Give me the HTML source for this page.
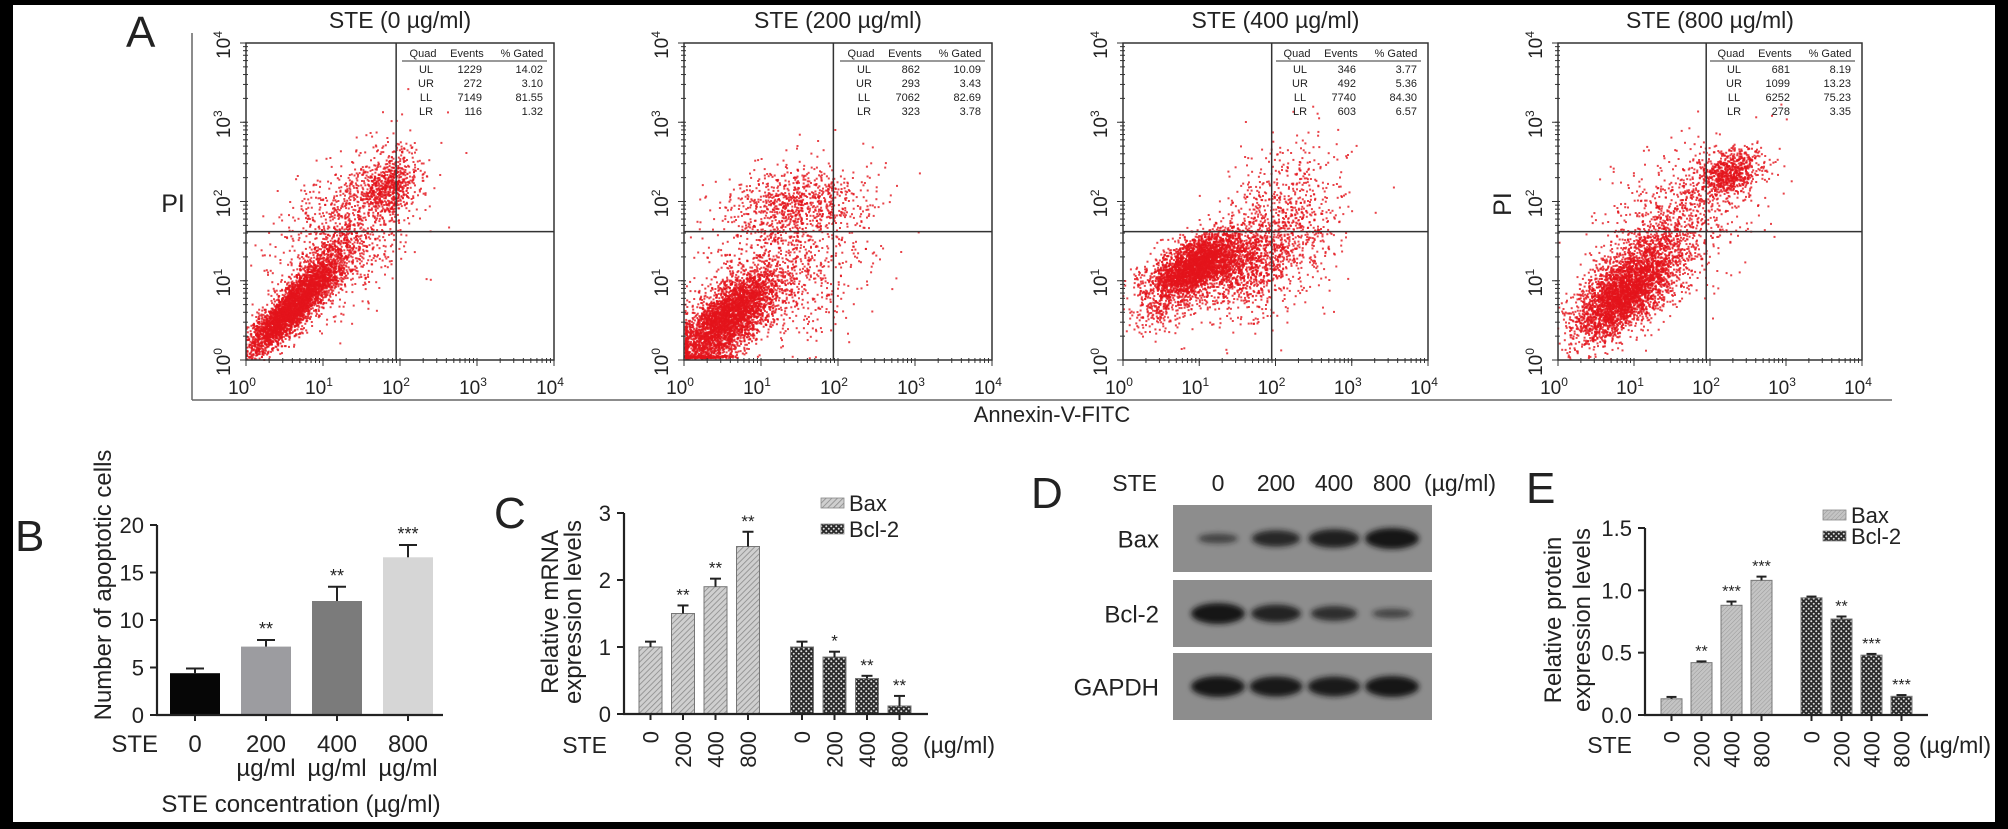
<!DOCTYPE html>
<html><head><meta charset="utf-8"><title>STE apoptosis figure</title>
<style>html,body{margin:0;padding:0;background:#000}svg{display:block}text{font-family:"Liberation Sans",Arial,sans-serif;fill:#222}</style>
</head><body>
<svg id="fig" xmlns="http://www.w3.org/2000/svg" width="2008" height="829" viewBox="0 0 2008 829">
<defs>
<pattern id="hatchC" width="4" height="4" patternUnits="userSpaceOnUse" patternTransform="rotate(45)"><rect width="4" height="4" fill="#cfcfcf"/><line x1="0" y1="0" x2="0" y2="4" stroke="#8a8a8a" stroke-width="1.6"/></pattern>
<pattern id="hatchE" width="3" height="3" patternUnits="userSpaceOnUse" patternTransform="rotate(45)"><rect width="3" height="3" fill="#c4c4c4"/><line x1="0" y1="0" x2="0" y2="3" stroke="#9a9a9a" stroke-width="1"/></pattern>
<pattern id="check" width="5" height="5" patternUnits="userSpaceOnUse"><rect width="5" height="5" fill="#2a2a2a"/><circle cx="1.25" cy="1.25" r="1" fill="#ddd"/><circle cx="3.75" cy="3.75" r="1" fill="#ddd"/></pattern>
<filter id="blur" x="-30%" y="-80%" width="160%" height="260%"><feGaussianBlur stdDeviation="2.6"/></filter>
</defs>
<rect x="0" y="0" width="2008" height="829" fill="#000"/>
<rect x="13" y="5" width="1982" height="817" fill="#fff"/>
<g id="root"></g>
</svg>
<script>
// ---------- DATA ----------
const flowTitles = ["STE (0 \u00b5g/ml)","STE (200 \u00b5g/ml)","STE (400 \u00b5g/ml)","STE (800 \u00b5g/ml)"];
const quadNames = ["UL","UR","LL","LR"];
const quadEvents0 = ["1229","272","7149","116"];
const quadPct0 = ["14.02","3.10","81.55","1.32"];
const quadEvents1 = ["862","293","7062","323"];
const quadPct1 = ["10.09","3.43","82.69","3.78"];
const quadEvents2 = ["346","492","7740","603"];
const quadPct2 = ["3.77","5.36","84.30","6.57"];
const quadEvents3 = ["681","1099","6252","278"];
const quadPct3 = ["8.19","13.23","75.23","3.35"];
const quadGateX = [1.95,1.94,1.95,1.95];
const quadGateY = [1.62,1.62,1.62,1.62];
// clusters: [cx, cy, sx, sy, rho, n] in log10 units
const clusters0 = [[0.55,0.6,0.28,0.28,0.85,2800],[0.95,1.05,0.25,0.25,0.7,900],[1.85,2.2,0.2,0.2,0.3,650],[1.3,1.6,0.45,0.5,0.4,1000]];
const clusters1 = [[0.5,0.45,0.32,0.32,0.7,2900],[0.8,0.7,0.3,0.25,0.6,800],[1.45,1.95,0.45,0.25,0.2,850],[1.3,1.1,0.55,0.5,0.3,750]];
const clusters2 = [[0.95,1.2,0.3,0.2,0.6,2700],[1.5,1.2,0.35,0.25,0.3,900],[2.0,1.6,0.45,0.55,0.4,1050],[0.6,0.8,0.25,0.25,0.5,400]];
const clusters3 = [[0.8,0.8,0.3,0.3,0.6,2600],[1.2,1.1,0.3,0.3,0.5,900],[2.25,2.35,0.2,0.15,0.3,700],[1.5,1.7,0.5,0.5,0.5,950]];
const clampBottom = [false,true,false,false];
const decadeLabels = ["0","1","2","3","4"];

// Panel B
const bCats = ["0","200","400","800"];
const bSub = ["","\u00b5g/ml","\u00b5g/ml","\u00b5g/ml"];
const bVals = [4.4,7.2,12.0,16.6];
const bErr = [4.9,7.9,13.5,17.9];
const bStars = ["","**","**","***"];
const bColors = ["#060606","#9c9ca0","#7b7b7b","#d6d6d6"];
const bTicks = [0,5,10,15,20];

// Panel C
const cCats = ["0","200","400","800"];
const cBax = [1.0,1.5,1.9,2.5];
const cBaxErr = [1.08,1.62,2.02,2.72];
const cBcl = [1.0,0.85,0.53,0.12];
const cBclErr = [1.08,0.93,0.57,0.27];
const cBaxStars = ["","**","**","**"];
const cBclStars = ["","*","**","**"];
const cTicks = [0,1,2,3];

// Panel D
const dLanes = ["0","200","400","800"];
const dRows = ["Bax","Bcl-2","GAPDH"];
const dBax = [0.3,0.72,0.85,1.0];
const dBcl = [1.0,0.8,0.62,0.28];
const dGapdh = [1.0,0.95,0.93,1.0];

// Panel E
const eBax = [0.13,0.42,0.88,1.08];
const eBaxErr = [0.145,0.43,0.91,1.11];
const eBcl = [0.94,0.77,0.48,0.15];
const eBclErr = [0.95,0.79,0.49,0.16];
const eBaxStars = ["","**","***","***"];
const eBclStars = ["","**","***","***"];
const eTicks = [0,0.5,1.0,1.5];
const eTickLabels = ["0.0","0.5","1.0","1.5"];

// ---------- HELPERS ----------
const NS="http://www.w3.org/2000/svg";
const root=document.getElementById('root');
function mk(tag,attrs,parent){const e=document.createElementNS(NS,tag);for(const k in attrs)e.setAttribute(k,attrs[k]);(parent||root).appendChild(e);return e;}
function txt(s,x,y,size,anchor,parent,extra){const e=mk('text',Object.assign({x:x,y:y,'font-size':size,'text-anchor':anchor||'start'},extra||{}),parent);e.textContent=s;return e;}
function line(x1,y1,x2,y2,w,c,parent){return mk('line',{x1:x1,y1:y1,x2:x2,y2:y2,stroke:c||'#222','stroke-width':w||2},parent);}

[["A",126,47],["B",15,551],["C",494,528],["D",1031,508],["E",1526,503]].forEach(l=>{
  const t=txt(l[0],l[1],l[2],44,'start');
  
  
});

// ---------- PANEL A ----------
const gA=mk('g',{});


const fr1=line(192,33,192,400,1.5,'#666',gA);


const fr2=line(192,400,1892,400,1.5,'#666',gA);


const xt=txt("Annexin-V-FITC",1052,422,22,'middle',gA);



const boxes=[[246,554],[684,992],[1123,1428],[1558,1862]];
const allClusters=[clusters0,clusters1,clusters2,clusters3];
const allEvents=[quadEvents0,quadEvents1,quadEvents2,quadEvents3];
const allPct=[quadPct0,quadPct1,quadPct2,quadPct3];
const TOP=43,BOT=360;
function mulberry(a){return function(){a|=0;a=a+0x6D2B79F5|0;let t=Math.imul(a^a>>>15,1|a);t=t+Math.imul(t^t>>>7,61|t)^t;return((t^t>>>14)>>>0)/4294967296;}}

boxes.forEach((b,p)=>{
  const L=b[0],R=b[1],W=R-L,H=BOT-TOP;
  const sx=v=>L+v/4*W, sy=v=>BOT-v/4*H;
  const g=mk('g',{},gA);
  
  
  const tt=txt(flowTitles[p],(L+R)/2,28,23,'middle',g);
  
  
  const rnd=mulberry(1234+p*77);
  const gauss=()=>{let u=0,v=0;while(u===0)u=rnd();v=rnd();return Math.sqrt(-2*Math.log(u))*Math.cos(2*Math.PI*v);};
  const pts=mk('g',{fill:'#e3141b'},g);
  
  
  allClusters[p].forEach(c=>{
    for(let i=0;i<c[5];i++){
      const z1=gauss(),z2=gauss();
      let x=c[0]+c[2]*z1, y=c[1]+c[3]*(c[4]*z1+Math.sqrt(1-c[4]*c[4])*z2);
      if(clampBottom[p]){if(y<0.02)y=0.02+rnd()*0.03; if(x<0.02)x=0.02+rnd()*0.03;}
      if(x<0||x>4||y<0||y>4)continue;
      mk('rect',{x:(sx(x)-1).toFixed(1),y:(sy(y)-1).toFixed(1),width:2,height:2,opacity:0.8},pts);
    }
  });
  const bx=mk('rect',{x:L,y:TOP,width:W,height:H,fill:'none',stroke:'#333','stroke-width':1.5},g);
  
  
  const qv=line(sx(quadGateX[p]),TOP,sx(quadGateX[p]),BOT,1.5,'#333',g);
  
  
  const qh=line(L,sy(quadGateY[p]),R,sy(quadGateY[p]),1.5,'#333',g);
  
  
  for(let d=0;d<4;d++){for(let k=1;k<=10;k++){const f=d+Math.log10(k);const len=k===1?6:3;
    line(L-len,sy(f),L+ (k===1?0:2),sy(f),1,'#333',g);
    line(sx(f),BOT+len,sx(f),BOT-(k===1?0:2),1,'#333',g);}}
  line(L-6,TOP,L,TOP,1,'#333',g); line(R,BOT,R,BOT+6,1,'#333',g);
  decadeLabels.forEach((lab,i)=>{
    const xl=mk('text',{x:sx(i)-4,y:BOT+34,'font-size':19,'text-anchor':'middle'},g);
    xl.textContent='10';
    const s1=mk('tspan',{dy:-8,'font-size':12},xl); s1.textContent=lab;
    
    
    const yl=mk('text',{x:0,y:0,'font-size':19,'text-anchor':'middle',transform:'translate('+(L-16)+','+(sy(i)+2)+') rotate(-90)'},g);
    yl.textContent='10';
    const s2=mk('tspan',{dy:-8,'font-size':12},yl); s2.textContent=lab;
    
    
  });
  const tb=mk('g',{},g);
  
  
  txt("Quad",R-131,TOP+14,11,'middle',tb); txt("Events",R-87,TOP+14,11,'middle',tb); txt("% Gated",R-32,TOP+14,11,'middle',tb);
  line(R-152,TOP+18,R-7,TOP+18,1,'#333',tb);
  quadNames.forEach((q,i)=>{const y=TOP+30+i*14;
    txt(q,R-128,y,11,'middle',tb); txt(allEvents[p][i],R-72,y,11,'end',tb); txt(allPct[p][i],R-11,y,11,'end',tb);});
});
const pi1=txt("PI",173,212,25,'middle',gA);


const pi2=txt("PI",0,0,25,'middle',gA,{transform:'translate(1511,204) rotate(-90)'});



// ---------- BAR CHART GENERIC ----------
function barChart(o){
  const g=mk('g',{});
  
  
  const y=v=>o.y0-(v/o.max)*(o.y0-o.yTop);
  o.series.forEach((s,si)=>{
    s.vals.forEach((v,i)=>{
      const cx=o.start+si*o.groupGap+i*o.step;
      const fill=Array.isArray(s.fill)?s.fill[i]:s.fill;
      const r=mk('rect',{x:cx-o.bw/2,y:y(v),width:o.bw,height:o.y0-y(v),fill:fill,stroke:o.stroke||'none','stroke-width':1},g);
      
      
      const e=line(cx,y(v),cx,y(s.err[i]),2,'#222',g);
      
      
      line(cx-o.cap/2,y(s.err[i]),cx+o.cap/2,y(s.err[i]),2,'#222',g);
      if(s.stars[i]){const st=txt(s.stars[i],cx,y(s.err[i])-5,o.starSize,'middle',g);
        
        }
      line(cx,o.y0,cx,o.y0+6,2,'#222',g);
    });
  });
  const ya=line(o.x0,o.yTop,o.x0,o.y0,2.2,'#222',g);
  
  
  const xa=line(o.x0-1,o.y0,o.xEnd,o.y0,2.2,'#222',g);
  
  
  o.ticks.forEach((t,i)=>{line(o.x0-7,y(t),o.x0,y(t),2,'#222',g);
    const tl=txt(o.tickLabels[i],o.x0-13,y(t)+8,o.tickSize,'end',g);
    
    });
  return g;
}

// Panel B
const gB=barChart({name:'panel-b-apoptotic-cells',x0:157,xEnd:443,y0:715,yTop:525,max:20,ticks:bTicks,tickLabels:bTicks.map(String),tickSize:22,
  start:195,step:71,groupGap:0,bw:50,cap:18,starSize:18,
  series:[{key:'apoptotic',vals:bVals,err:bErr,stars:bStars,fill:bColors}]});
bCats.forEach((c,i)=>{const cx=195+i*71;
  const a=txt(c,cx,752,24,'middle',gB);  
  if(bSub[i]){const b=txt(bSub[i],cx,776,24,'middle',gB);  }
});
txt("STE",158,752,24,'end',gB);
const bxt=txt("STE concentration (\u00b5g/ml)",301,812,24,'middle',gB);


const byt=txt("Number of apoptotic cells",0,0,24,'middle',gB,{transform:'translate(111,585) rotate(-90)'});



// Panel C
const gC=barChart({name:'panel-c-mrna',x0:624,xEnd:928,y0:714,yTop:513,max:3,ticks:cTicks,tickLabels:cTicks.map(String),tickSize:22,
  start:650.5,step:32.5,groupGap:151.5,bw:23,cap:11,starSize:17,stroke:'#777',
  series:[{key:'bax',vals:cBax,err:cBaxErr,stars:cBaxStars,fill:'url(#hatchC)'},{key:'bcl2',vals:cBcl,err:cBclErr,stars:cBclStars,fill:'url(#check)'}]});
function rotLabels(g,start,step,gap,cats,yEnd){
  [0,1].forEach(si=>cats.forEach((c,i)=>{const cx=start+si*gap+i*step;
    const t=txt(c,0,0,22,'end',g,{transform:'translate('+(cx+8)+','+yEnd+') rotate(-90)'});
    
    }));
}
rotLabels(gC,650.5,32.5,151.5,cCats,731);
txt("STE",607,753,23,'end',gC);
txt("(\u00b5g/ml)",923,753,23,'start',gC);
const cyt=txt("Relative mRNA",0,0,24,'middle',gC,{transform:'translate(558,612) rotate(-90)'});


txt("expression levels",0,0,24,'middle',gC,{transform:'translate(581,612) rotate(-90)'});
function legend(g,x,y1,y2,f1,f2,size){
  const l=mk('g',{},g);
  
  
  mk('rect',{x:x,y:y1-5,width:23,height:10,fill:f1,stroke:'#888','stroke-width':0.8},l);
  mk('rect',{x:x,y:y2-5,width:23,height:10,fill:f2,stroke:'#888','stroke-width':0.8},l);
  const a=txt("Bax",x+28,y1+8,size,'start',l);  
  const b=txt("Bcl-2",x+28,y2+8,size,'start',l);  
}
legend(gC,821,503,529,'url(#hatchC)','url(#check)',22);

// Panel D
const gD=mk('g',{});


txt("STE",1157,491,23,'end',gD);
dLanes.forEach((l,i)=>{const t=txt(l,1218+i*58,491,23,'middle',gD);  });
txt("(\u00b5g/ml)",1424,491,23,'start',gD);
const rowsY=[[505,572],[580,647],[653,720]];
const rowVals=[dBax,dBcl,dGapdh];
dRows.forEach((r,ri)=>{
  const y0=rowsY[ri][0],y1=rowsY[ri][1],cy=(y0+y1)/2;
  const bx=mk('rect',{x:1173,y:y0,width:259,height:y1-y0,fill:'#8d8d8d'},gD);
  
  
  const lt=txt(r,1159,cy+9,24,'end',gD);
  
  
  rowVals[ri].forEach((v,i)=>{
    const e=mk('ellipse',{cx:1218+i*58,cy:cy,rx:17+10*v,ry:2.5+8*v,fill:'#151515',opacity:0.45+0.55*v,filter:'url(#blur)'},gD);
    
    
  });
});

// Panel E
const gE=barChart({name:'panel-e-protein',x0:1645,xEnd:1928,y0:715,yTop:528,max:1.5,ticks:eTicks,tickLabels:eTickLabels,tickSize:22,
  start:1671.5,step:30,groupGap:140,bw:21,cap:10,starSize:16,stroke:'#777',
  series:[{key:'bax',vals:eBax,err:eBaxErr,stars:eBaxStars,fill:'url(#hatchE)'},{key:'bcl2',vals:eBcl,err:eBclErr,stars:eBclStars,fill:'url(#check)'}]});
rotLabels(gE,1671.5,30,140,cCats,731);
txt("STE",1632,753,23,'end',gE);
txt("(\u00b5g/ml)",1919,753,23,'start',gE);
const eyt=txt("Relative protein",0,0,24,'middle',gE,{transform:'translate(1561,620) rotate(-90)'});


txt("expression levels",0,0,24,'middle',gE,{transform:'translate(1590,620) rotate(-90)'});
legend(gE,1823,515,536,'url(#hatchE)','url(#check)',22);
</script>
</body></html>
